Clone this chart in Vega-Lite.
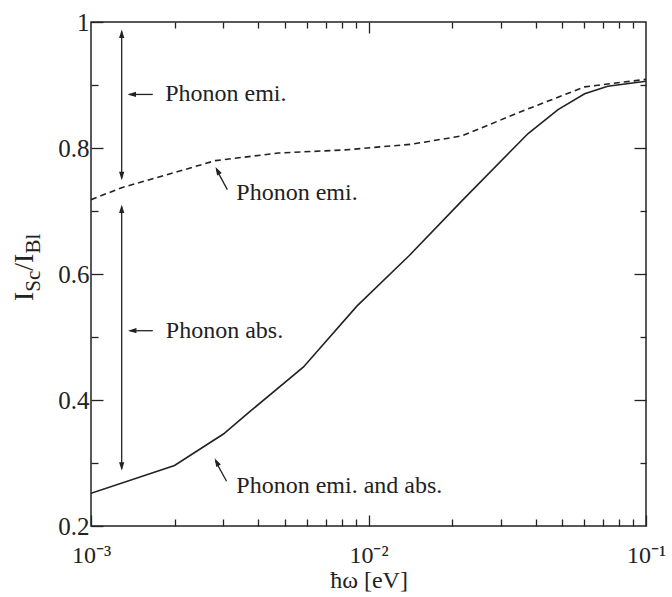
{
  "$schema": "https://vega.github.io/schema/vega-lite/v6.json",
  "autosize": "none",
  "width": 555,
  "height": 504,
  "padding": {"left": 91, "top": 22, "right": 26, "bottom": 71},
  "background": "white",
  "config": {
    "view": {"stroke": "#222", "strokeWidth": 1.5},
    "font": "Liberation Serif",
    "axis": {
      "domain": false, "grid": false, "tickColor": "#222", "tickWidth": 1.3,
      "labelColor": "#222", "labelFont": "Liberation Serif", "labelFontSize": 24,
      "titleColor": "#222", "titleFont": "Liberation Serif", "titleFontSize": 24, "titleFontWeight": "normal",
      "labelFlush": false, "labelOverlap": false, "labelBound": false
    }
  },
  "datasets": {
    "solid": [
      {"e": 0.001, "r": 0.252}, {"e": 0.002, "r": 0.296}, {"e": 0.003, "r": 0.346},
      {"e": 0.00377, "r": 0.383}, {"e": 0.00582, "r": 0.452}, {"e": 0.00908, "r": 0.549},
      {"e": 0.014, "r": 0.629}, {"e": 0.0217, "r": 0.716}, {"e": 0.0376, "r": 0.823},
      {"e": 0.0482, "r": 0.861}, {"e": 0.0601, "r": 0.886}, {"e": 0.0728, "r": 0.898},
      {"e": 0.1, "r": 0.906}
    ],
    "dashed": [
      {"e": 0.001, "r": 0.718}, {"e": 0.00129, "r": 0.737}, {"e": 0.00207, "r": 0.763},
      {"e": 0.00281, "r": 0.780}, {"e": 0.00473, "r": 0.792}, {"e": 0.00824, "r": 0.797},
      {"e": 0.0143, "r": 0.806}, {"e": 0.0216, "r": 0.819}, {"e": 0.0375, "r": 0.862},
      {"e": 0.0601, "r": 0.897}, {"e": 0.1, "r": 0.909}
    ],
    "arrows": [
      {"a": 0.00129, "b": 0.985, "a2": 0.00129, "b2": 0.752},
      {"a": 0.00129, "b": 0.707, "a2": 0.00129, "b2": 0.291},
      {"a": 0.00137, "b": 0.885, "a2": 0.00167, "b2": 0.885},
      {"a": 0.00138, "b": 0.510, "a2": 0.00167, "b2": 0.510},
      {"a": 0.00283, "b": 0.766, "a2": 0.0031, "b2": 0.734},
      {"a": 0.00281, "b": 0.303, "a2": 0.00308, "b2": 0.271}
    ],
    "headsUp": [{"a": 0.00129, "b": 0.988}, {"a": 0.00129, "b": 0.710}],
    "headsDown": [{"a": 0.00129, "b": 0.749}, {"a": 0.00129, "b": 0.288}],
    "headsLeft": [{"a": 0.001355, "b": 0.885}, {"a": 0.00136, "b": 0.510}],
    "headsDiag": [{"a": 0.00281, "b": 0.770}, {"a": 0.00279, "b": 0.3075}],
    "notes": [
      {"a": 0.00185, "b": 0.885, "t": "Phonon emi."},
      {"a": 0.00186, "b": 0.510, "t": "Phonon abs."},
      {"a": 0.00334, "b": 0.728, "t": "Phonon emi."},
      {"a": 0.00334, "b": 0.263, "t": "Phonon emi. and abs."}
    ],
    "titleBig": [
      {"a": 0.000618, "b": 0.5571, "t": "I"},
      {"a": 0.000618, "b": 0.6052, "t": "/I"}
    ],
    "titleSmall": [
      {"a": 0.000655, "b": 0.5719, "t": "Sc"},
      {"a": 0.000655, "b": 0.6324, "t": "Bl"}
    ]
  },
  "resolve": {"axis": {"x": "independent", "y": "independent"}},
  "layer": [
    {
      "data": {"name": "solid"},
      "mark": {"type": "line", "color": "#222", "strokeWidth": 1.6, "clip": true},
      "encoding": {
        "x": {"field": "e", "type": "quantitative",
              "scale": {"type": "log", "domain": [0.001, 0.1], "nice": false},
              "axis": {"orient": "bottom", "values": [0.001, 0.01, 0.1], "tickSize": -11, "labelPadding": 28,
                       "labelExpr": "datum.value < 0.005 ? '10⁻³' : datum.value < 0.05 ? '10⁻²' : '10⁻¹'",
                       "title": "ħω [eV]", "titlePadding": 1}},
        "y": {"field": "r", "type": "quantitative",
              "scale": {"domain": [0.2, 1], "nice": false, "zero": false},
              "axis": {"orient": "left", "values": [0.2, 0.4, 0.6, 0.8, 1], "format": ".1~f", "tickSize": -12, "labelPadding": 14, "labelFontSize": 25, "title": null}}
      }
    },
    {
      "data": {"name": "dashed"},
      "mark": {"type": "line", "color": "#222", "strokeWidth": 1.6, "strokeDash": [6, 4], "clip": true},
      "encoding": {
        "x": {"field": "e", "type": "quantitative",
              "scale": {"type": "log", "domain": [0.001, 0.1], "nice": false},
              "axis": {"orient": "top", "values": [0.01], "tickSize": -11, "labels": false, "title": null}},
        "y": {"field": "r", "type": "quantitative",
              "scale": {"domain": [0.2, 1], "nice": false, "zero": false},
              "axis": {"orient": "right", "values": [0.4, 0.6, 0.8], "tickSize": -12, "labels": false, "title": null}}
      }
    },
    {
      "data": {"name": "arrows"},
      "mark": {"type": "rule", "color": "#222", "strokeWidth": 1.3},
      "encoding": {
        "x": {"field": "a", "type": "quantitative",
              "scale": {"type": "log", "domain": [0.001, 0.1], "nice": false},
              "axis": {"orient": "bottom", "values": [0.002, 0.003, 0.004, 0.005, 0.006, 0.007, 0.008, 0.009, 0.02, 0.03, 0.04, 0.05, 0.06, 0.07, 0.08, 0.09], "tickSize": -7, "labels": false, "title": null}},
        "x2": {"field": "a2"},
        "y": {"field": "b", "type": "quantitative",
              "scale": {"domain": [0.2, 1], "nice": false, "zero": false},
              "axis": {"orient": "left", "values": [0.3, 0.5, 0.7, 0.9], "tickSize": -7, "labels": false, "title": null}},
        "y2": {"field": "b2"}
      }
    },
    {
      "data": {"name": "arrows"},
      "mark": {"type": "rule", "color": "#222", "strokeWidth": 1.3, "opacity": 0},
      "encoding": {
        "x": {"field": "a", "type": "quantitative",
              "scale": {"type": "log", "domain": [0.001, 0.1], "nice": false},
              "axis": {"orient": "top", "values": [0.002, 0.003, 0.004, 0.005, 0.006, 0.007, 0.008, 0.009, 0.02, 0.03, 0.04, 0.05, 0.06, 0.07, 0.08, 0.09], "tickSize": -6, "labels": false, "title": null}},
        "x2": {"field": "a2"},
        "y": {"field": "b", "type": "quantitative",
              "scale": {"domain": [0.2, 1], "nice": false, "zero": false},
              "axis": {"orient": "right", "values": [0.3, 0.5, 0.7, 0.9], "tickSize": -6, "labels": false, "title": null}},
        "y2": {"field": "b2"}
      }
    },
    {
      "data": {"name": "headsUp"},
      "mark": {"type": "point", "shape": "M0,0L-0.5,1.6L0.5,1.6Z", "size": 110, "filled": true, "color": "#222", "opacity": 1, "angle": 0},
      "encoding": {
        "x": {"field": "a", "type": "quantitative", "axis": null},
        "y": {"field": "b", "type": "quantitative", "axis": null}
      }
    },
    {
      "data": {"name": "headsDown"},
      "mark": {"type": "point", "shape": "M0,0L-0.5,1.6L0.5,1.6Z", "size": 110, "filled": true, "color": "#222", "opacity": 1, "angle": 180},
      "encoding": {
        "x": {"field": "a", "type": "quantitative", "axis": null},
        "y": {"field": "b", "type": "quantitative", "axis": null}
      }
    },
    {
      "data": {"name": "headsLeft"},
      "mark": {"type": "point", "shape": "M0,0L-0.5,1.6L0.5,1.6Z", "size": 110, "filled": true, "color": "#222", "opacity": 1, "angle": 270},
      "encoding": {
        "x": {"field": "a", "type": "quantitative", "axis": null},
        "y": {"field": "b", "type": "quantitative", "axis": null}
      }
    },
    {
      "data": {"name": "headsDiag"},
      "mark": {"type": "point", "shape": "M0,0L-0.5,1.6L0.5,1.6Z", "size": 110, "filled": true, "color": "#222", "opacity": 1, "angle": 332},
      "encoding": {
        "x": {"field": "a", "type": "quantitative", "axis": null},
        "y": {"field": "b", "type": "quantitative", "axis": null}
      }
    },
    {
      "data": {"name": "notes"},
      "mark": {"type": "text", "align": "left", "baseline": "middle", "font": "Liberation Serif", "fontSize": 24, "color": "#222"},
      "encoding": {
        "x": {"field": "a", "type": "quantitative", "axis": null},
        "y": {"field": "b", "type": "quantitative", "axis": null},
        "text": {"field": "t"}
      }
    },
    {
      "data": {"name": "titleBig"},
      "mark": {"type": "text", "align": "left", "baseline": "alphabetic", "angle": 270, "font": "Liberation Serif", "fontSize": 28, "color": "#222", "clip": false},
      "encoding": {
        "x": {"field": "a", "type": "quantitative", "axis": null},
        "y": {"field": "b", "type": "quantitative", "axis": null},
        "text": {"field": "t"}
      }
    },
    {
      "data": {"name": "titleSmall"},
      "mark": {"type": "text", "align": "left", "baseline": "alphabetic", "angle": 270, "font": "Liberation Serif", "fontSize": 21, "color": "#222", "clip": false},
      "encoding": {
        "x": {"field": "a", "type": "quantitative", "axis": null},
        "y": {"field": "b", "type": "quantitative", "axis": null},
        "text": {"field": "t"}
      }
    }
  ]
}
